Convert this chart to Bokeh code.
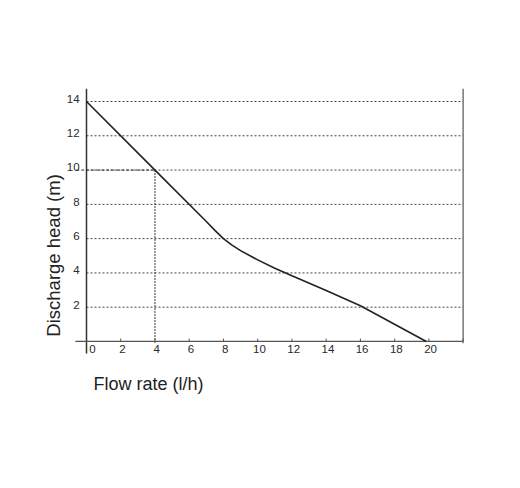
from bokeh.plotting import figure
from bokeh.models import Range1d, ColumnDataSource, Label
from bokeh.embed import file_html
from bokeh.resources import INLINE
from bokeh.core.properties import value

# data
flow = [0, 4, 7, 7.5, 8, 8.5, 9, 10, 11, 12, 14, 16, 19.85]
head = [14, 10, 7, 6.48, 6.0, 5.62, 5.3, 4.76, 4.27, 3.83, 2.97, 2.08, 0]
x_ticks = [0, 2, 4, 6, 8, 10, 12, 14, 16, 18, 20]
y_ticks = [2, 4, 6, 8, 10, 12, 14]
x_max = 22
y_max = 14.75
marker_x = 4
marker_y = 10

p = figure(width=500, height=470, output_backend="svg", toolbar_location=None,
           x_range=Range1d(-5.023, 24.183), y_range=Range1d(-7.528, 19.893),
           min_border=0, outline_line_color=None)
p.axis.visible = False
p.grid.visible = False

FONT = "Liberation Sans"

# horizontal dotted grid
p.segment(x0=[0] * len(y_ticks), y0=y_ticks, x1=[x_max] * len(y_ticks), y1=y_ticks,
          line_color="#444444", line_width=1, line_dash="2 2")
# marker lines
p.segment(x0=[-0.6], y0=[marker_y], x1=[marker_x], y1=[marker_y],
          line_color="#333333", line_width=1, line_dash="3 2")
p.segment(x0=[marker_x], y0=[marker_y], x1=[marker_x], y1=[-0.1],
          line_color="#333333", line_width=1, line_dash="2 1")

# axes lines
p.segment(x0=[0], y0=[-0.7], x1=[0], y1=[y_max], line_color="#333333", line_width=1.5)
p.segment(x0=[-0.65], y0=[0], x1=[x_max], y1=[0], line_color="#555555", line_width=1.2)
p.segment(x0=[x_max], y0=[-0.1], x1=[x_max], y1=[y_max], line_color="#777777", line_width=1.5)
# small ticks on x axis
tx = x_ticks[1:] + [x_max]
p.segment(x0=tx, y0=[0] * len(tx), x1=tx, y1=[0.17] * len(tx), line_color="#555555", line_width=1)

# curve
p.line(flow, head, line_color="#222222", line_width=1.6)

# tick labels
xl = ColumnDataSource(dict(x=[v + (0.35 if v == 0 else 0.1) for v in x_ticks],
                           y=[-0.43] * len(x_ticks), t=[str(v) for v in x_ticks]))
p.text(x="x", y="y", text="t", source=xl, text_font=value(FONT), text_font_size="11.5px",
       text_color="#2a2a2a", text_align="center", text_baseline="middle")
yl = ColumnDataSource(dict(x=[-0.4] * len(y_ticks), y=[v + 0.15 for v in y_ticks],
                           t=[str(v) for v in y_ticks]))
p.text(x="x", y="y", text="t", source=yl, text_font=value(FONT), text_font_size="11.5px",
       text_color="#2a2a2a", text_align="right", text_baseline="middle")

# axis titles
p.add_layout(Label(x=0.41, y=-2.51, text="Flow rate (l/h)", text_font=FONT,
                   text_font_size="18px", text_color="#222222",
                   text_align="left", text_baseline="middle"))
p.add_layout(Label(x=-1.95, y=5.02, text="Discharge head (m)", text_font=FONT,
                   text_font_size="18.5px", text_color="#222222", angle=1.5708,
                   text_align="center", text_baseline="middle"))

open("out.html", "w").write(file_html(p, INLINE))
